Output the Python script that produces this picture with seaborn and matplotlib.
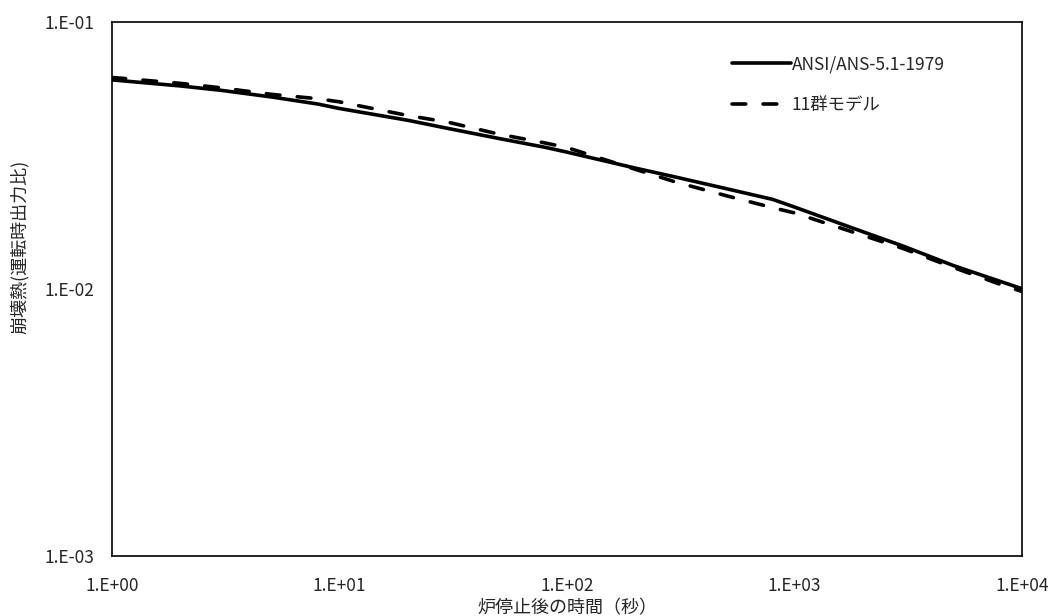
import matplotlib
matplotlib.use("Agg")
import matplotlib.pyplot as plt
import matplotlib.ticker as mticker
import seaborn as sns
import numpy as np
import pandas as pd

# time after shutdown (s)
time_s = [1, 2, 3, 5, 8, 10, 20, 30, 50, 80, 100, 200, 300, 500, 800,
          1000, 2000, 3000, 5000, 8000, 10000]
# decay heat / operating power
ans_1979 = [0.0608, 0.0577, 0.0556, 0.0525, 0.0494, 0.0475, 0.0429, 0.0400,
            0.0367, 0.0340, 0.0326, 0.0284, 0.0263, 0.0238, 0.0217, 0.0203,
            0.0164, 0.0145, 0.01225, 0.0107, 0.01004]
group11 = [0.0621, 0.0590, 0.0568, 0.0537, 0.0517, 0.0503, 0.0447, 0.0422,
           0.0381, 0.0353, 0.0339, 0.0281, 0.0252, 0.0224, 0.0202, 0.0193,
           0.0159, 0.0142, 0.01205, 0.01043, 0.0098]
series_names = ["ANSI/ANS-5.1-1979", "11群モデル"]

sns.set_style("white")
plt.rcParams["font.family"] = ["Noto Sans CJK JP", "DejaVu Sans"]

df = pd.DataFrame({
    "time": time_s * 2,
    "heat": ans_1979 + group11,
    "model": [series_names[0]] * len(time_s) + [series_names[1]] * len(time_s),
})

fig = plt.figure(figsize=(10.56, 6.16), dpi=100)
ax = fig.add_axes([0.106, 0.097, 0.862, 0.867])

sns.lineplot(data=df, x="time", y="heat", style="model", color="black",
             dashes={series_names[0]: "", series_names[1]: (3.8, 4.8)},
             linewidth=2.6, ax=ax)
for ln in ax.lines:
    ln.set_dash_capstyle("round")

ax.set_xscale("log")
ax.set_yscale("log")
ax.set_xlim(1, 1e4)
ax.set_ylim(1e-3, 1e-1)


def sci_fmt(v, pos):
    return "1.E{:+03d}".format(int(round(np.log10(v))))


for axis in (ax.xaxis, ax.yaxis):
    axis.set_major_formatter(mticker.FuncFormatter(sci_fmt))
    axis.set_minor_formatter(mticker.NullFormatter())
    axis.set_minor_locator(mticker.LogLocator(base=10, subs=np.arange(2, 10)))
ax.tick_params(which="major", direction="in", length=6, width=1, labelsize=12.5)
ax.tick_params(which="minor", direction="in", length=4, width=1)
ax.tick_params(axis="x", which="major", pad=15)
ax.tick_params(axis="y", which="major", pad=13)

for sp in ax.spines.values():
    sp.set_color("black")
    sp.set_linewidth(1.2)

ax.set_xlabel("炉停止後の時間（秒）", fontsize=13, labelpad=3)
ax.set_ylabel("崩壊熱(運転時出力比)", fontsize=13)
ax.yaxis.set_label_coords(-0.091, 0.58)

leg = ax.legend(loc="upper left", bbox_to_anchor=(0.664, 0.967), frameon=False,
                handlelength=3.4, labelspacing=1.3, handletextpad=0.05, fontsize=12.5)

fig.savefig("out.png", dpi=100)
